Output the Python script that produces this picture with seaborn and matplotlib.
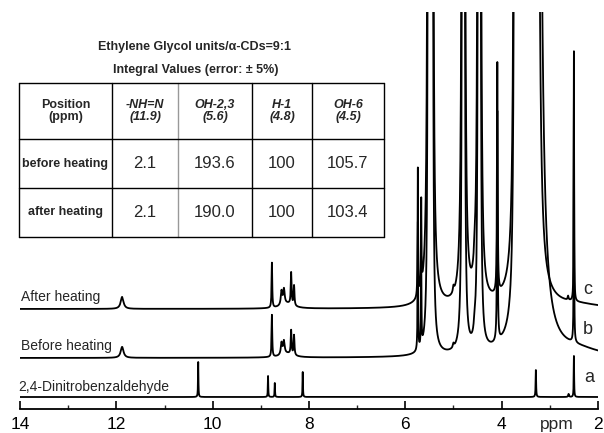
import numpy as np
import pandas as pd
import matplotlib
matplotlib.use("Agg")
import matplotlib.pyplot as plt
from matplotlib.ticker import MultipleLocator
import seaborn as sns

# ---------------- data ----------------
ppm_major_ticks = [14, 12, 10, 8, 6, 4, 2]
sample_names = ["2,4-Dinitrobenzaldehyde", "Before heating", "After heating"]
sample_tags = ["a", "b", "c"]

# peak lists (ppm position, height, half width in ppm)
a_pos = [10.30, 8.85, 8.71, 8.13, 3.29, 2.61, 2.50]
a_h = [35, 21, 14, 25, 27, 3, 41]
a_w = [0.005, 0.005, 0.005, 0.005, 0.006, 0.01, 0.005]

b_pos = [11.88, 8.77, 8.57, 8.52, 8.45, 8.37, 8.31, 5.74, 5.67, 5.52, 5.48, 5.44, 5.00,
         4.81, 4.78, 4.56, 4.48, 4.45, 4.09, 3.72, 3.66, 3.58, 3.50, 3.42, 3.34, 3.27,
         2.50, 2.40]
b_h = [11, 42, 12, 13, 4, 24, 20, 128, 87, 2000, 2000, 2000, 4,
       2000, 2000, 10, 2000, 2000, 230, 3000, 3000, 3000, 3000, 3000, 3000, 3000,
       250, 6]
b_w = [0.035, 0.008, 0.018, 0.018, 0.15, 0.01, 0.01, 0.006, 0.006, 0.008, 0.008, 0.008, 0.015,
       0.008, 0.008, 0.02, 0.008, 0.008, 0.008, 0.01, 0.01, 0.01, 0.01, 0.01, 0.01, 0.04,
       0.005, 0.5]

c_pos = [11.88, 8.77, 8.57, 8.52, 8.45, 8.37, 8.31, 5.74, 5.67, 5.52, 5.48, 5.44, 5.00,
         4.81, 4.78, 4.56, 4.48, 4.45, 4.09, 3.72, 3.66, 3.58, 3.50, 3.42, 3.34, 3.27,
         2.62, 2.50, 2.40]
c_h = [12, 45, 14, 15, 5, 32, 20, 128, 87, 2000, 2000, 2000, 6,
       2000, 2000, 12, 2000, 2000, 230, 3000, 3000, 3000, 3000, 3000, 3000, 3000,
       4, 250, 3]
c_w = [0.035, 0.008, 0.018, 0.018, 0.15, 0.01, 0.01, 0.006, 0.006, 0.011, 0.011, 0.011, 0.015,
       0.011, 0.011, 0.02, 0.011, 0.011, 0.008, 0.012, 0.012, 0.012, 0.012, 0.012, 0.012, 0.02,
       0.01, 0.005, 0.5]

baselines = [12, 51, 100]

# table content
table_title = "Ethylene Glycol units/\u03b1-CDs=9:1"
table_subtitle = "Integral Values (error: \u00b1 5%)"
col_headers = ["Position\n(ppm)", "-NH=N\n(11.9)", "OH-2,3\n(5.6)", "H-1\n(4.8)", "OH-6\n(4.5)"]
row_labels = ["before heating", "after heating"]
before_values = ["2.1", "193.6", "100", "105.7"]
after_values = ["2.1", "190.0", "100", "103.4"]

# ---------------- build spectra ----------------
ppm = np.linspace(2.0, 14.0, 24001)


def spectrum(pos, h, w, base):
    y = np.full_like(ppm, float(base))
    for p, hh, ww in zip(pos, h, w):
        y += hh / (1.0 + ((ppm - p) / ww) ** 2)
    return y


frames = []
for name, (pos, h, w), base in zip(sample_names,
                                   [(a_pos, a_h, a_w), (b_pos, b_h, b_w), (c_pos, c_h, c_w)],
                                   baselines):
    frames.append(pd.DataFrame({"ppm": ppm, "intensity": spectrum(pos, h, w, base), "sample": name}))
df = pd.concat(frames, ignore_index=True)

# ---------------- figure ----------------
sns.set_style("white")
plt.rcParams["font.family"] = ["Liberation Sans", "DejaVu Sans"]

W, H = 604, 433
AX_BOTTOM, AX_TOP = 409, 12
fig = plt.figure(figsize=(W / 100, H / 100), dpi=100)
ax = fig.add_axes([20 / W, (H - AX_BOTTOM) / H, 578 / W, (AX_BOTTOM - AX_TOP) / H])

sns.lineplot(data=df, x="ppm", y="intensity", hue="sample", palette=["black"] * 3,
             estimator=None, sort=False, legend=False, linewidth=1.3, ax=ax)

ax.set_xlim(14, 2)
ax.set_ylim(0, AX_BOTTOM - AX_TOP)
for s in ["left", "right", "top"]:
    ax.spines[s].set_visible(False)
ax.spines["bottom"].set_linewidth(1.3)
ax.spines["bottom"].set_color("black")
ax.set_yticks([])
ax.set_xticks(ppm_major_ticks)
ax.set_xticklabels([str(t) for t in ppm_major_ticks])
ax.xaxis.set_minor_locator(MultipleLocator(1))
ax.tick_params(axis="x", which="major", direction="in", length=6, width=1.2,
               labelsize=12.5, pad=6, bottom=True, colors="black")
ax.tick_params(axis="x", which="minor", direction="in", length=3, width=1.0, bottom=True)
ax.set_xlabel("")
ax.set_ylabel("")
ax.patch.set_alpha(0)

# sample labels
ax.text(13.98, AX_BOTTOM - 297, sample_names[2], fontsize=10, ha="left", va="center")
ax.text(13.98, AX_BOTTOM - 346, sample_names[1], fontsize=10, ha="left", va="center")
ax.text(14.04, AX_BOTTOM - 387, sample_names[0], fontsize=10, ha="left", va="center", clip_on=False)
ax.text(2.22, AX_BOTTOM - 290, sample_tags[2], fontsize=13, ha="center", va="center")
ax.text(2.22, AX_BOTTOM - 330, sample_tags[1], fontsize=13, ha="center", va="center")
ax.text(2.18, AX_BOTTOM - 377, sample_tags[0], fontsize=13, ha="center", va="center")

# ---------------- table overlay ----------------
ov = fig.add_axes([0, 0, 1, 1])
ov.set_xlim(0, W)
ov.set_ylim(H, 0)
ov.axis("off")
ov.patch.set_alpha(0)

col_edges = [19, 112, 178, 252, 312, 384]
row_edges = [83, 139, 188, 237]
for i, x in enumerate(col_edges):
    ov.plot([x, x], [row_edges[0], row_edges[-1]], color="0.6" if i == 2 else "black", lw=1.0)
for y in row_edges:
    ov.plot([col_edges[0], col_edges[-1]], [y, y], color="black", lw=1.0)

ov.text(194, 47, table_title, fontsize=9, fontweight="bold", ha="center", va="center")
ov.text(196, 70, table_subtitle, fontsize=9, fontweight="bold", ha="center", va="center")

for j, hdr in enumerate(col_headers):
    xc = (col_edges[j] + col_edges[j + 1]) / 2
    yc = (row_edges[0] + row_edges[1]) / 2
    ov.text(xc, yc, hdr, fontsize=9, fontweight="bold", fontstyle="normal" if j == 0 else "italic",
            ha="center", va="center", linespacing=1.0)

for r, (lab, vals) in enumerate(zip(row_labels, [before_values, after_values])):
    yc = (row_edges[r + 1] + row_edges[r + 2]) / 2
    ov.text((col_edges[0] + col_edges[1]) / 2, yc, lab, fontsize=9, fontweight="bold",
            ha="center", va="center")
    for j, v in enumerate(vals):
        xc = (col_edges[j + 1] + col_edges[j + 2]) / 2
        ov.text(xc, yc, v, fontsize=12, ha="center", va="center")

# ppm unit label
ov.text(557, 424, "ppm", fontsize=12.5, ha="center", va="center")

fig.savefig("out.png", dpi=100)
